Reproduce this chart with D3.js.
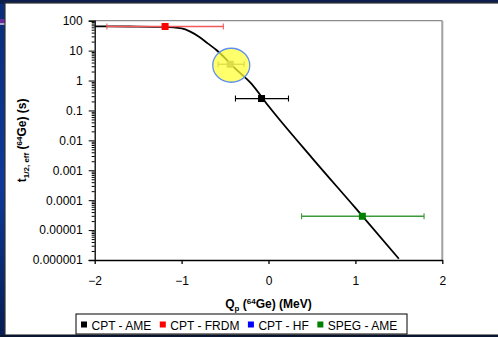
<!DOCTYPE html>
<html>
<head>
<meta charset="utf-8">
<script src="https://cdn.jsdelivr.net/npm/d3@7"></script>
<style>
  body { margin: 0; overflow: hidden; background: #0b2a6b; }
  text { font-family: Arial, "Liberation Sans", sans-serif; }
</style>
</head>
<body>
<div id="chart"></div>
<script>
(function () {
    'use strict';

    // theory curve, Q_p (MeV) vs effective half-life (s)
    var curveQ = [-2, -1.6, -1.2, -1.0, -0.9, -0.8, -0.7, -0.6, -0.5, -0.4, -0.2, 0, 0.5, 1.0, 1.5];
    var curveT = [65, 64, 62, 55, 43, 29, 17.5, 10.5, 5.6, 2.8, 0.8, 0.14, 0.0026, 5.5e-5, 1.1e-6];

    // measured points
    var seriesNames = ["CPT - AME", "CPT - FRDM", "CPT - HF", "SPEG - AME"];
    var seriesColors = ["#000000", "#ff0000", "#0000ff", "#008000"];
    var barColors = ["#000000", "#f05a5a", "#808080", "#3c9c3c"];
    var pointQ = [-0.08, -1.19, -0.44, 1.08];
    var pointT = [0.25, 64, 3.5, 2.9e-5];
    var pointQLow = [-0.38, -1.86, -0.58, 0.38];
    var pointQHigh = [0.23, -0.52, -0.28, 1.79];
    var pointFill = ["#000000", "#ff0000", "#808080", "#008000"];

    var xTicks = [-2, -1, 0, 1, 2];
    var yTicks = [1e-6, 1e-5, 1e-4, 1e-3, 1e-2, 0.1, 1, 10, 100];
    var yTickLabels = ["0.000001", "0.00001", "0.0001", "0.001", "0.01", "0.1", "1", "10", "100"];

    var width = 498, height = 337;
    var left = 94.7, right = 442.3, top = 20.7, bottom = 260;

    var svg = d3.select("#chart").append("svg")
        .attr("width", width)
        .attr("height", height);

    // slide background
    var defs = svg.append("defs");
    var grad = defs.append("linearGradient").attr("id", "bg")
        .attr("x1", 0).attr("y1", 0).attr("x2", 0).attr("y2", 1);
    grad.append("stop").attr("offset", "0%").attr("stop-color", "#0a2c78");
    grad.append("stop").attr("offset", "55%").attr("stop-color", "#0d3a9a");
    grad.append("stop").attr("offset", "100%").attr("stop-color", "#071c52");

    svg.append("rect").attr("width", width).attr("height", height).attr("fill", "url(#bg)");
    svg.append("rect").attr("width", width).attr("height", 4).attr("fill", "#0b1e4c");
    svg.append("rect").attr("x", 0).attr("y", 19).attr("width", 6).attr("height", 4).attr("fill", "#6a2a9a");
    svg.append("rect").attr("x", 0).attr("y", 23).attr("width", 6).attr("height", 2).attr("fill", "#a9a3c8");
    svg.append("rect").attr("x", 5).attr("y", 3).attr("width", 494).attr("height", 332)
        .attr("fill", "#ffffff").attr("stroke", "#333").attr("stroke-width", 1.2);
    svg.append("rect").attr("x", 0).attr("y", 335).attr("width", width).attr("height", 2).attr("fill", "#0a1630");

    var x = d3.scaleLinear().domain([-2, 2]).range([left, right]);
    var y = d3.scaleLog().domain([1e-6, 100]).range([bottom, top]);

    // plot frame (top / right grey)
    svg.append("line").attr("x1", left).attr("x2", right).attr("y1", top).attr("y2", top)
        .attr("stroke", "#8c8c8c").attr("stroke-width", 1.3);
    svg.append("line").attr("x1", right).attr("x2", right).attr("y1", top).attr("y2", bottom)
        .attr("stroke", "#a0a0a0").attr("stroke-width", 2);

    // minor log ticks
    var minor = [];
    for (var k = -6; k < 2; k++) {
        for (var m = 2; m <= 9; m++) minor.push(m * Math.pow(10, k));
    }
    svg.append("g")
        .attr("transform", "translate(" + left + ",0)")
        .call(d3.axisLeft(y).tickValues(minor).tickSize(3).tickFormat(""))
        .call(function (g) { g.select(".domain").remove(); g.selectAll("line").attr("stroke", "#000"); });

    var yAxis = svg.append("g")
        .attr("transform", "translate(" + left + ",0)")
        .call(d3.axisLeft(y).tickValues(yTicks).tickSize(6).tickPadding(6)
            .tickFormat(function (d, i) { return yTickLabels[i]; }));
    yAxis.select(".domain").attr("stroke", "#000").attr("stroke-width", 1.3);
    yAxis.selectAll("text").attr("font-size", 12).attr("fill", "#000")
        .style("font-family", "Arial, 'Liberation Sans', sans-serif");

    var xAxis = svg.append("g")
        .attr("transform", "translate(0," + bottom + ")")
        .call(d3.axisBottom(x).tickValues(xTicks).tickSize(4).tickSizeOuter(0).tickPadding(12)
            .tickFormat(d3.format("d")));
    xAxis.select(".domain").attr("stroke", "#000").attr("stroke-width", 1.6);
    xAxis.selectAll("line").attr("stroke-width", 1.3);
    xAxis.selectAll("text").attr("font-size", 12).attr("fill", "#000")
        .style("font-family", "Arial, 'Liberation Sans', sans-serif");

    // theory curve
    var curveData = curveQ.map(function (q, i) { return { q: q, t: curveT[i] }; });
    svg.append("path")
        .datum(curveData)
        .attr("fill", "none")
        .attr("stroke", "#000")
        .attr("stroke-width", 1.8)
        .attr("d", d3.line()
            .x(function (d) { return x(d.q); })
            .y(function (d) { return y(d.t); })
            .curve(d3.curveMonotoneX));

    // error bars + markers
    var pts = pointQ.map(function (q, i) {
        return { q: q, t: pointT[i], lo: pointQLow[i], hi: pointQHigh[i], bar: barColors[i], fill: pointFill[i] };
    });
    var pg = svg.append("g").selectAll("g").data(pts).enter().append("g");
    pg.append("line")
        .attr("x1", function (d) { return x(d.lo); })
        .attr("x2", function (d) { return x(d.hi); })
        .attr("y1", function (d) { return y(d.t); })
        .attr("y2", function (d) { return y(d.t); })
        .attr("stroke", function (d) { return d.bar; })
        .attr("stroke-width", 1.3);
    ["lo", "hi"].forEach(function (end) {
        pg.append("line")
            .attr("x1", function (d) { return x(d[end]); })
            .attr("x2", function (d) { return x(d[end]); })
            .attr("y1", function (d) { return y(d.t) - 3; })
            .attr("y2", function (d) { return y(d.t) + 3; })
            .attr("stroke", function (d) { return d.bar; })
            .attr("stroke-width", 1.1);
    });
    pg.append("rect")
        .attr("x", function (d) { return x(d.q) - 3.5; })
        .attr("y", function (d) { return y(d.t) - 3.5; })
        .attr("width", 7).attr("height", 7)
        .attr("fill", function (d) { return d.fill; });

    // highlight around the HF point
    svg.append("ellipse")
        .attr("cx", x(pointQ[2]) + 1)
        .attr("cy", y(pointT[2]) + 1)
        .attr("rx", 18.5).attr("ry", 17)
        .attr("fill", "#ffff33").attr("fill-opacity", 0.72)
        .attr("stroke", "#5d8ef5").attr("stroke-width", 1.3);

    // axis titles
    var yt = svg.append("text")
        .attr("transform", "translate(26," + ((top + bottom) / 2) + ") rotate(-90)")
        .attr("text-anchor", "middle")
        .attr("font-size", 12).attr("font-weight", "bold");
    yt.append("tspan").text("t");
    yt.append("tspan").attr("font-size", 8).attr("dy", 3).text("1/2, eff");
    yt.append("tspan").attr("dy", -3).text(" (");
    yt.append("tspan").attr("font-size", 8).attr("dy", -4).text("64");
    yt.append("tspan").attr("dy", 4).text("Ge) (s)");

    var xt = svg.append("text")
        .attr("x", (left + right) / 2).attr("y", 307.5)
        .attr("text-anchor", "middle")
        .attr("font-size", 12).attr("font-weight", "bold");
    xt.append("tspan").text("Q");
    xt.append("tspan").attr("font-size", 8).attr("dy", 3).text("p");
    xt.append("tspan").attr("dy", -3).text(" (");
    xt.append("tspan").attr("font-size", 8).attr("dy", -4).text("64");
    xt.append("tspan").attr("dy", 4).text("Ge) (MeV)");

    // legend
    var legend = svg.append("g");
    var box = legend.append("rect")
        .attr("x", 76).attr("y", 314).attr("height", 20)
        .attr("fill", "#fff").attr("stroke", "#000").attr("stroke-width", 1);
    var lx = 81;
    seriesNames.forEach(function (name, i) {
        legend.append("rect").attr("x", lx).attr("y", 321.5).attr("width", 6).attr("height", 6)
            .attr("fill", seriesColors[i]);
        var t = legend.append("text").attr("x", lx + 10.5).attr("y", 329.5)
            .attr("font-size", 12).text(name);
        lx += 10.5 + t.node().getComputedTextLength() + 8.5;
    });
    box.attr("width", Math.max(331, lx - 76 - 4));
})();
</script>
</body>
</html>
